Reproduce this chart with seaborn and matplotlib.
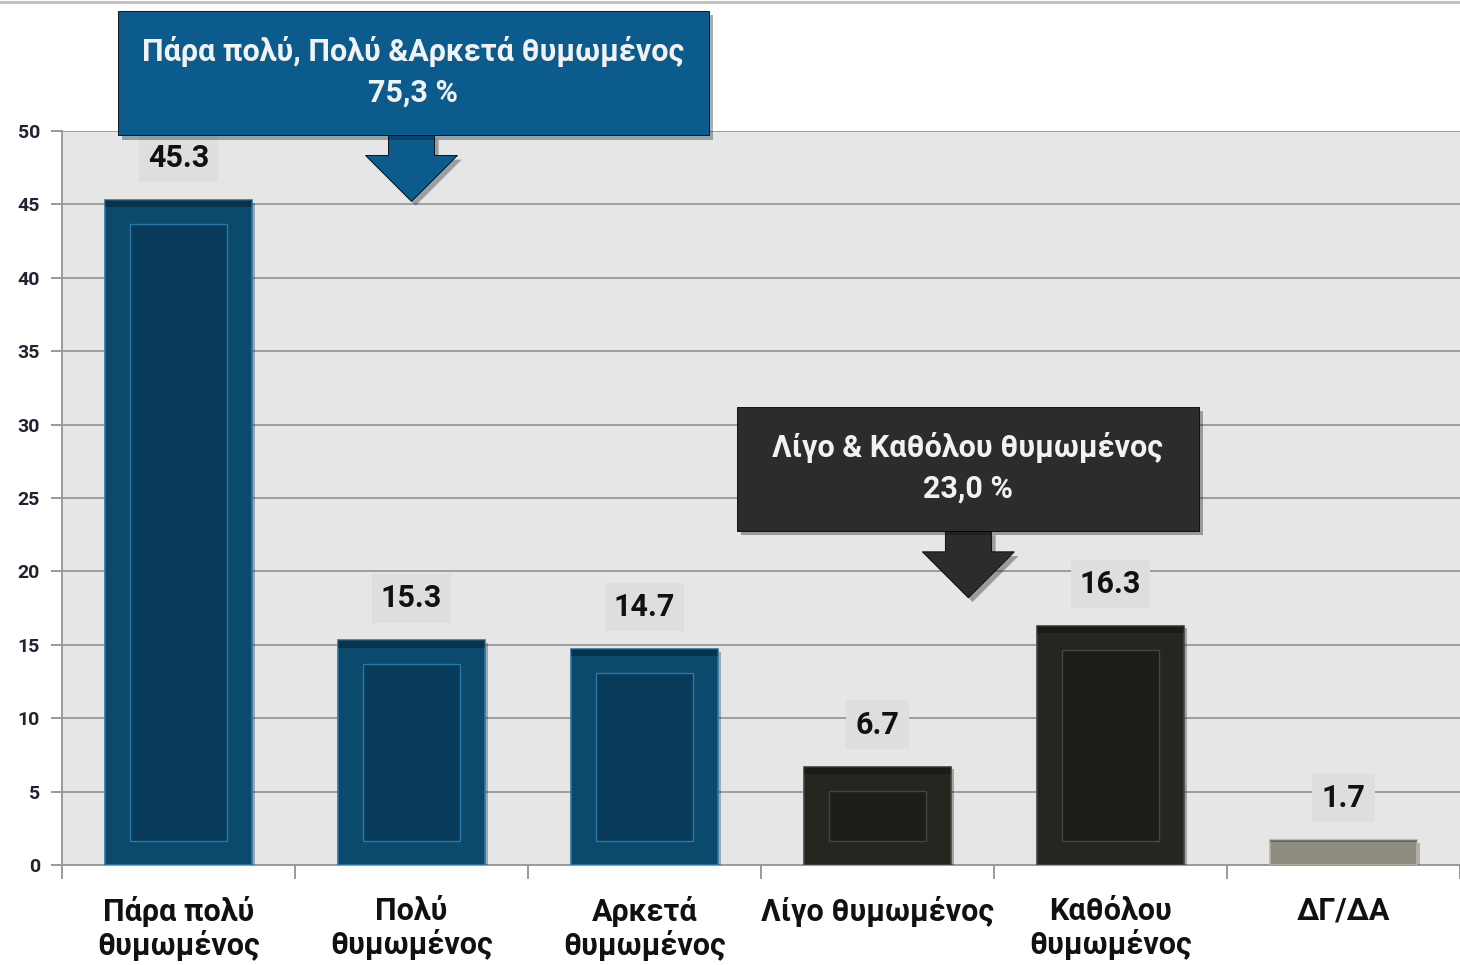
import matplotlib
matplotlib.use("Agg")
import matplotlib.pyplot as plt
import seaborn as sns
import pandas as pd
from matplotlib.patches import Rectangle, Polygon
from matplotlib.lines import Line2D
import matplotlib.patheffects as pe

# ---------------- data ----------------
categories = ["Πάρα πολύ\nθυμωμένος", "Πολύ\nθυμωμένος", "Αρκετά\nθυμωμένος",
              "Λίγο θυμωμένος", "Καθόλου\nθυμωμένος", "ΔΓ/ΔΑ"]
values = [45.3, 15.3, 14.7, 6.7, 16.3, 1.7]
value_labels = ["45.3", "15.3", "14.7", "6.7", "16.3", "1.7"]
groups = ["high", "high", "high", "low", "low", "na"]
y_ticks = [0, 5, 10, 15, 20, 25, 30, 35, 40, 45, 50]
callout_high = "Πάρα πολύ, Πολύ &Αρκετά θυμωμένος\n75,3 %"
callout_low = "Λίγο & Καθόλου θυμωμένος\n23,0 %"

# ---------------- style ----------------
sns.set_theme(style="white")
plt.rcParams["font.family"] = ["Roboto", "DejaVu Sans"]

face = {"high": "#0b4a6d", "low": "#262621", "na": "#8e8b80"}
inner = {"high": "#083c5a", "low": "#1d1d19", "na": "#858276"}
edge_hi = {"high": "#2a78a6", "low": "#45453e", "na": "#b5b2a6"}

df = pd.DataFrame({"cat": categories, "val": values, "grp": groups})

fig = plt.figure(figsize=(14.6, 9.65), dpi=100)
ax = fig.add_axes([62 / 1460, 1 - 865 / 965, 1 - 62 / 1460, (865 - 131) / 965])
ax.set_facecolor("#e6e6e6")

sns.barplot(data=df, x="cat", y="val", hue="grp", palette=face, dodge=False,
            width=0.63, legend=False, ax=ax, saturation=1, zorder=3)

ax.set_ylim(0, 50)
ax.set_xlim(-0.5, len(categories) - 0.5)

# px -> data helpers
px_x = 1.0 / ((1460 - 62) / len(categories))
px_y = 50.0 / (865 - 131)

# bevel effect for each bar
for patch, g in zip(ax.patches, groups):
    x0, w, h = patch.get_x(), patch.get_width(), patch.get_height()
    patch.set_edgecolor(edge_hi[g])
    patch.set_linewidth(1.2)
    patch.set_path_effects([pe.withSimplePatchShadow(offset=(2, -2), alpha=0.3)])
    dx = 25 * px_x
    dy = min(24 * px_y, h * 0.28)
    if h > 3:
        ax.add_patch(Rectangle((x0 + dx, dy), w - 2 * dx, h - 2 * dy,
                               facecolor=inner[g], edgecolor=edge_hi[g], lw=1.0, zorder=4))
    # dark top bevel strip
    ax.add_patch(Rectangle((x0, h - dy * 0.3), w, dy * 0.3,
                           facecolor="#000000", alpha=0.3, lw=0, zorder=4))

# value labels
for i, (v, lab) in enumerate(zip(values, value_labels)):
    ax.text(i, v + 42 * px_y, lab, ha="center", va="center", fontsize=22,
            fontweight="bold", color="#111111", zorder=6,
            bbox=dict(boxstyle="square,pad=0.3", fc="#dedede", ec="none"))

# grid & spines
ax.set_yticks(y_ticks)
ax.yaxis.grid(True, color="#9e9e9e", lw=1.4, zorder=0)
ax.set_axisbelow(True)
for s in ["top", "right"]:
    ax.spines[s].set_visible(False)
for s in ["left", "bottom"]:
    ax.spines[s].set_color("#9a9a9a")
    ax.spines[s].set_linewidth(1.4)

ax.tick_params(axis="y", length=8, width=1.4, color="#9a9a9a", left=True,
               labelsize=14, labelcolor="#222233", pad=8)
for t in ax.get_yticklabels():
    t.set_fontweight("bold")

ax.set_xticks(range(len(categories)))
ax.set_xticklabels(categories, fontsize=22, fontweight="bold", color="#111111",
                   linespacing=1.15)
ax.tick_params(axis="x", length=0, pad=22)
ax.set_xticks([i - 0.5 for i in range(len(categories) + 1)], minor=True)
ax.tick_params(axis="x", which="minor", length=10, width=1.4, color="#9a9a9a", bottom=True)
ax.set_xlabel("")
ax.set_ylabel("")


def callout(x_left, x_right, y_bot, y_top, tip_x, tip_y, color, text):
    box = Rectangle((x_left, y_bot), x_right - x_left, y_top - y_bot,
                    facecolor=color, edgecolor="#000000", lw=0.6, zorder=7,
                    clip_on=False)
    box.set_path_effects([pe.withSimplePatchShadow(offset=(3, -3), alpha=0.35)])
    ax.add_patch(box)
    sw, hw = 23 * px_x, 46 * px_x
    head_h = 46 * px_y
    neck = tip_y + head_h
    pts = [(tip_x - sw, y_bot), (tip_x + sw, y_bot), (tip_x + sw, neck),
           (tip_x + hw, neck), (tip_x, tip_y), (tip_x - hw, neck), (tip_x - sw, neck)]
    arr = Polygon(pts, closed=True, facecolor=color, edgecolor="#000000", lw=0.6,
                  zorder=6.9, clip_on=False)
    arr.set_path_effects([pe.withSimplePatchShadow(offset=(3, -3), alpha=0.35)])
    ax.add_patch(arr)
    ax.text((x_left + x_right) / 2, (y_bot + y_top) / 2 + 1 * px_y, text, ha="center",
            va="center", fontsize=22, fontweight="bold", color="#f2f2f2",
            linespacing=1.45, zorder=8, clip_on=False)


callout(-0.26, 2.275, 49.7, 58.2, 1.0, 45.2, "#0b5b8c", callout_high)
callout(2.395, 4.38, 22.75, 31.2, 3.39, 18.2, "#2c2c2c", callout_low)

fig.add_artist(Line2D([0, 1], [0.998, 0.998], color="#bdbdbd", lw=2,
                      transform=fig.transFigure))

fig.savefig("out.png", dpi=100, facecolor="white")
